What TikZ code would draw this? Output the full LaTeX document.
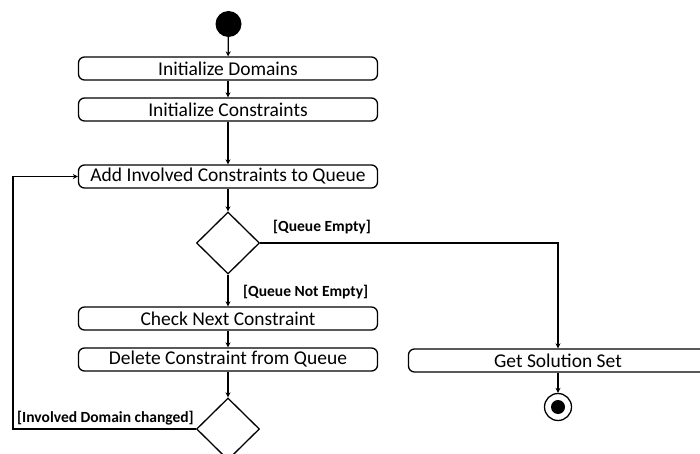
\documentclass[tikz,border=0pt]{standalone}
\usepackage{fontspec}
\setmainfont{Carlito}
\usetikzlibrary{shapes.geometric,arrows.meta}
\begin{document}
\begin{tikzpicture}[x=1pt,y=-1pt,
 act/.style={draw, rounded corners=6pt, line width=1.3pt, minimum width=299pt, minimum height=23pt, inner sep=0pt, font=\fontsize{19.5}{21}\selectfont},
 dec/.style={draw, diamond, line width=1.3pt, minimum width=63pt, minimum height=62pt, inner sep=0pt},
 flow/.style={line width=1.3pt, -{Stealth[length=5pt,width=5pt]}},
 guard/.style={font=\bfseries\fontsize{15.5}{17}\selectfont, inner sep=0pt}]
\useasboundingbox (0,0) rectangle (700,454);
\clip (0,0) rectangle (700,454);
\node[circle, fill, minimum size=26pt, inner sep=0pt] (start) at (228.5,24) {};
\node[act] (dom) at (228,68.5) {Initialize Domains};
\node[act] (con) at (228,109.5) {Initialize Constraints};
\node[act] (add) at (228,176.5) {Add Involved Constraints to Queue};
\node[dec] (d1) at (228,243) {};
\node[act] (chk) at (228,318.5) {Check Next Constraint};
\node[act] (del) at (228,359.5) {Delete Constraint from Queue};
\node[dec] (d2) at (228,429) {};
\node[act] (sol) at (558,360.5) {Get Solution Set};
\node[circle, draw, line width=1.3pt, minimum size=27pt, inner sep=0pt] (end) at (558,407) {};
\fill (end.center) circle (7pt);
\node[guard, anchor=west] (l1) at (273,227) {[Queue Empty]};
\node[guard, anchor=west] (l2) at (243,292) {[Queue Not Empty]};
\node[guard, anchor=west] (l3) at (17,418) {[Involved Domain changed]};
\coordinate (corner) at (13,429);
\draw[flow] (start) -- (dom);
\draw[flow] (dom) -- (con);
\draw[flow] (con) -- (add);
\draw[flow] (add) -- (d1);
\draw[flow] (d1) -- (chk);
\draw[flow] (chk) -- (del);
\draw[flow] (del) -- (d2);
\draw[flow] (d1.east) -| (sol.north);
\draw[flow] (sol) -- (end);
\draw[flow] (d2.west) -- (corner) |- (add.west);
\end{tikzpicture}
\end{document}
